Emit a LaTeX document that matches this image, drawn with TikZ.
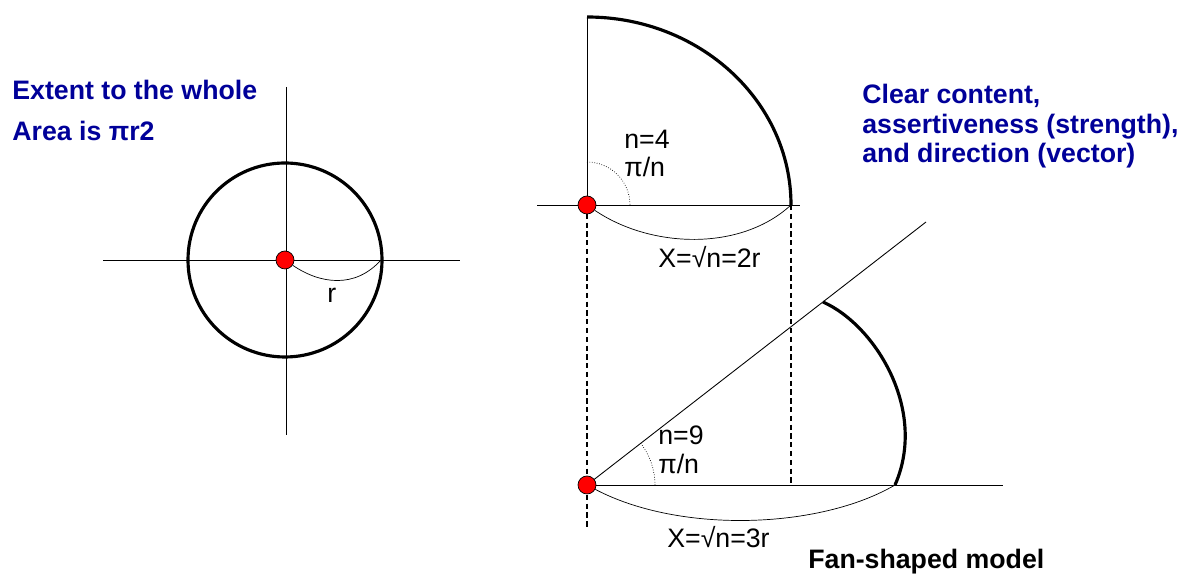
\documentclass[tikz,border=0pt]{standalone}
\usepackage{fontspec}
\setmainfont{Liberation Sans}
\definecolor{titleblue}{RGB}{0,0,153}
\tikzset{
  axis/.style={line width=0.5pt},
  bigarc/.style={line width=1.8pt},
  guide/.style={line width=0.6pt, dash pattern=on 3pt off 2pt},
  dot/.style={circle, draw=black, line width=0.4pt, fill=red, minimum size=0.36cm, inner sep=0pt},
  lbl/.style={font=\fontsize{15.2}{17}\selectfont, inner sep=0pt},
  title/.style={font=\fontsize{15.2}{17}\selectfont\bfseries, text=titleblue, align=left, inner sep=0pt}
}
\begin{document}
\begin{tikzpicture}[x=0.02cm, y=0.02cm]

    \useasboundingbox (0,0) rectangle (1191,574);

    % 左边的圆
    \draw[axis] (286,487) -- (286,139);
    \draw[axis] (103,314) -- (460,314);
    \draw[bigarc] (285,314) circle (97);
    \node[dot] (o1) at (285,314) {};
    \coordinate (r1) at (381,314);
    \draw[thin] (o1) .. controls (320,290) and (355,285) .. (r1);
    \node[lbl, anchor=base west] (rr) at (327,271) {r};

    % 上面的扇形 n=4
    \draw[guide] (587,369) -- (587,46);
    \draw[guide] (791,369) -- (791,89);
    \draw[axis] (587,369) -- (587,557);
    \draw[axis] (537,369) -- (800,369);
    \draw[bigarc] (587,557) arc[start angle=90, end angle=0, x radius=204, y radius=188];
    \draw[densely dotted, line width=0.4pt] (587,412) arc[start angle=90, end angle=0, radius=43];
    \node[dot] (o2) at (587,369) {};
    \coordinate (r2) at (791,369);
    \draw[thin] (o2) .. controls (650,326) and (740,322) .. (r2);
    \node[lbl, anchor=base west] (n4) at (624,425) {n=4};
    \node[lbl, anchor=base west] (a4) at (624,397) {π/n};
    \node[lbl, anchor=base west] (x2) at (658,306) {X=√n=2r};

    % 下面的扇形 n=9
    \coordinate (e3) at (1003,89);
    \coordinate (d3) at (926,352);
    \draw[axis] (587,89) -- (e3);
    \draw[axis] (587,89) -- (d3);
    \draw[bigarc] (823,272) .. controls (875,249) and (928,164) .. (895,89);
    \draw[densely dotted, line width=0.4pt] (655,89) arc[start angle=0, end angle=37.8, radius=68];
    \node[dot] (o3) at (587,89) {};
    \coordinate (r3) at (895,89);
    \draw[thin] (o3) .. controls (680,40) and (820,45) .. (r3);
    \node[lbl, anchor=base west] (n9) at (658,129) {n=9};
    \node[lbl, anchor=base west] (a9) at (658,100) {π/n};
    \node[lbl, anchor=base west] (x3) at (667,26) {X=√n=3r};

    % 插入文字
    \node[title, anchor=base west] (t1) at (12,474) {Extent to the whole};
    \node[title, anchor=base west] (t2) at (12,433) {Area is πr2};
    \node[title, anchor=base west] (t3) at (862,411) {Clear content,\\assertiveness (strength),\\and direction (vector)};
    \node[lbl, anchor=base west, font=\fontsize{15.2}{17}\selectfont\bfseries] (fan) at (808,5) {Fan-shaped model};

  \end{tikzpicture}
\end{document}
